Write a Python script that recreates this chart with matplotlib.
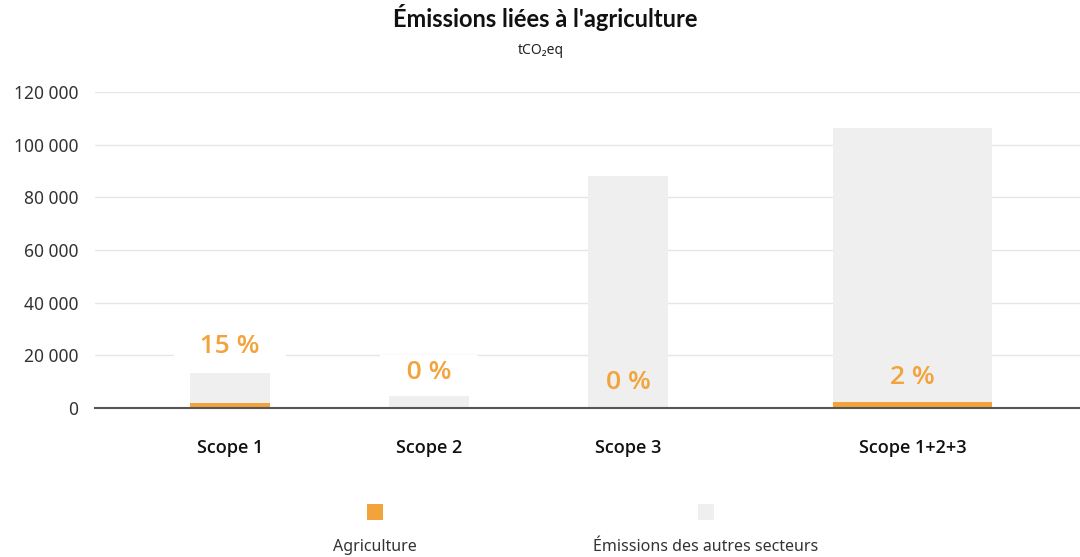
import numpy as np
import matplotlib.pyplot as plt
from matplotlib.patches import Rectangle

plt.rcParams['font.family'] = ['Noto Sans', 'DejaVu Sans']

scopes = ['Scope 1', 'Scope 2', 'Scope 3', 'Scope 1+2+3']
agriculture = [2000, 0, 0, 2100]
autres = [11300, 4600, 88100, 104200]
parts = ['15 %', '0 %', '0 %', '2 %']
y_ticks = [0, 20000, 40000, 60000, 80000, 100000, 120000]

orange = '#F2A33A'
gris = '#EFEFEF'

# layout
x_pos = np.array([0, 1, 2, 3.43])
widths = [0.40, 0.40, 0.40, 0.80]
label_y = [23200, 13300, 9500, 11400]
label_box = [True, True, False, False]

fig = plt.figure(figsize=(10.8, 5.57), dpi=100)
ax = fig.add_axes([0.088, 0.2675, 0.912, 0.5675])

ax.bar(x_pos, agriculture, width=widths, color=orange, zorder=2)
ax.bar(x_pos, autres, width=widths, bottom=agriculture, color=gris, zorder=2)

for x, y, txt, box in zip(x_pos, label_y, parts, label_box):
    kw = {}
    if box:
        txt = '\u00a0\u00a0\u00a0' + txt + '\u00a0\u00a0\u00a0'
        kw['bbox'] = dict(facecolor='white', edgecolor='none', pad=4)
    ax.text(x, y, txt, ha='center', va='center', color=orange, family='Open Sans',
            fontsize=19, fontweight='semibold', zorder=3, **kw)

ax.set_xlim(-0.678, 4.27)
ax.set_ylim(0, 120000)
ax.set_yticks(y_ticks)
ax.set_yticklabels(['{:,}'.format(v).replace(',', ' ') for v in y_ticks],
                   fontsize=12.5, color='#333333')
ax.set_xticks(x_pos)
ax.set_xticklabels(scopes, fontsize=13, color='#111111', family='Open Sans',
                   fontweight='semibold')
ax.tick_params(axis='y', length=0, pad=12)
ax.tick_params(axis='x', length=0, pad=22)
ax.grid(axis='y', color='#E6E6E6', linewidth=1, zorder=0)
ax.set_axisbelow(True)
for s in ['top', 'right', 'left']:
    ax.spines[s].set_visible(False)
ax.spines['bottom'].set_color('#555555')
ax.spines['bottom'].set_linewidth(1.5)
ax.spines['bottom'].set_zorder(4)

fig.text(0.505, 0.968, "Émissions liées à l'agriculture", ha='center', va='center',
         fontsize=17, fontweight='bold', family='Lato', color='#111111')
fig.text(0.501, 0.91, 'tCO₂eq', ha='center', va='center', fontsize=10, color='#222222')

# legend
for cx, col, lab in [(375, orange, 'Agriculture'), (706, gris, 'Émissions des autres secteurs')]:
    fig.add_artist(Rectangle(((cx - 8) / 1080, (557 - 520) / 557), 16 / 1080, 16 / 557,
                             transform=fig.transFigure, facecolor=col, edgecolor='none'))
    fig.text(cx / 1080, (557 - 547) / 557, lab, ha='center', va='center',
             fontsize=11.5, color='#333333')

fig.savefig('out.png', dpi=100)
